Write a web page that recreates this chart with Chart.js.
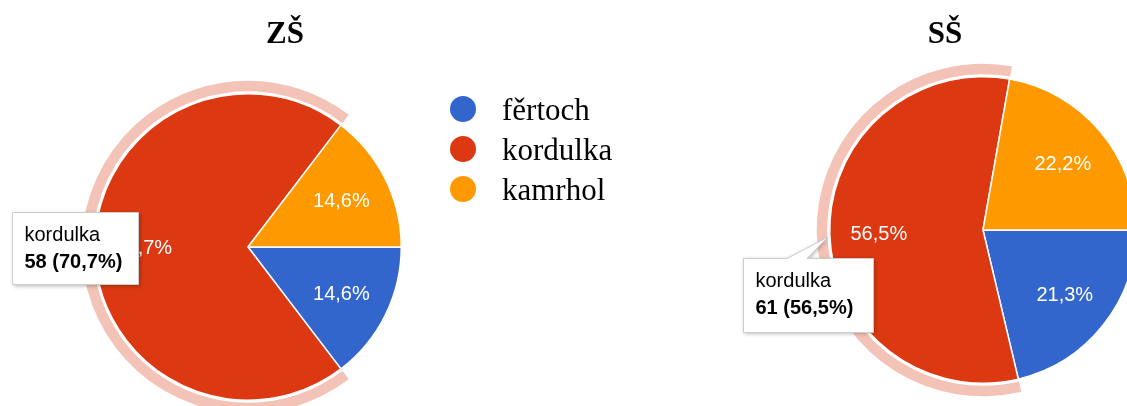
<!DOCTYPE html>
<html><head><meta charset="utf-8">
<script src="https://cdn.jsdelivr.net/npm/chart.js@4"></script>
<style>
html,body{margin:0;padding:0;background:#fff;overflow:hidden;width:1127px;height:406px;}
#wrap{position:relative;width:1127px;height:406px;overflow:hidden;}
canvas{position:absolute;top:0;display:block;}
</style></head><body>
<div id="wrap">
<canvas id="zs" width="700" height="406" style="left:0px"></canvas>
<canvas id="ss" width="460" height="406" style="left:700px"></canvas>
</div>
<script>
const categories = ['fěrtoch', 'kordulka', 'kamrhol'];
const zsValues = [12, 58, 12];
const ssValues = [23, 61, 24];
const chartTitles = ['ZŠ', 'SŠ'];
const sliceColors = ['#3366cc', '#dc3912', '#ff9900'];
const highlightIndex = 1;

function pct(values, i) {
  const t = values.reduce((a, b) => a + b, 0);
  return (values[i] / t * 100).toFixed(1).replace('.', ',') + '%';
}

const SANS = '"Liberation Sans", Arial, sans-serif';
const SERIF = '"Liberation Serif", "Times New Roman", serif';

function makePlugin(cfg) {
  return {
    id: 'decor',
    afterDatasetsDraw(chart) {
      const ctx = chart.ctx;
      const meta = chart.getDatasetMeta(0);
      const values = chart.data.datasets[0].data;
      ctx.save();
      // highlight ring
      const p = meta.data[highlightIndex].getProps(['x', 'y', 'startAngle', 'endAngle', 'outerRadius'], true);
      ctx.beginPath();
      ctx.arc(p.x, p.y, p.outerRadius + 13, p.startAngle, p.endAngle);
      ctx.arc(p.x, p.y, p.outerRadius + 2.5, p.endAngle, p.startAngle, true);
      ctx.closePath();
      ctx.fillStyle = 'rgba(220,57,18,0.3)';
      ctx.fill();
      // slice labels
      ctx.fillStyle = '#ffffff';
      ctx.font = '20px ' + SANS;
      ctx.textAlign = 'center';
      ctx.textBaseline = 'middle';
      meta.data.forEach((a, i) => {
        const q = a.getProps(['x', 'y', 'startAngle', 'endAngle', 'outerRadius'], true);
        const mid = (q.startAngle + q.endAngle) / 2;
        const rr = q.outerRadius * 0.68;
        ctx.fillText(pct(values, i), q.x + Math.cos(mid) * rr, q.y + Math.sin(mid) * rr + 1);
      });
      // title
      ctx.fillStyle = '#000';
      ctx.font = 'bold 31px ' + SERIF;
      ctx.textBaseline = 'alphabetic';
      ctx.fillText(cfg.title, cfg.titleX, 43);
      // legend
      if (cfg.legend) {
        ctx.textAlign = 'left';
        ctx.font = '31px ' + SERIF;
        categories.forEach((c, i) => {
          const y = 109 + i * 40;
          ctx.beginPath();
          ctx.arc(463, y, 13, 0, Math.PI * 2);
          ctx.fillStyle = sliceColors[i];
          ctx.fill();
          ctx.fillStyle = '#000';
          ctx.fillText(c, 502, y + 11);
        });
      }
      // tooltip
      const b = cfg.tip;
      ctx.beginPath();
      ctx.moveTo(b.x, b.y);
      if (b.pointer) {
        ctx.lineTo(b.pointer[0], b.y);
        ctx.lineTo(b.pointer[2], b.pointer[3]);
        ctx.lineTo(b.pointer[1], b.y);
      }
      ctx.lineTo(b.x + b.w, b.y);
      ctx.lineTo(b.x + b.w, b.y + b.h);
      ctx.lineTo(b.x, b.y + b.h);
      ctx.closePath();
      ctx.shadowColor = 'rgba(0,0,0,0.3)';
      ctx.shadowBlur = 4;
      ctx.shadowOffsetX = 1;
      ctx.shadowOffsetY = 1;
      ctx.fillStyle = '#fff';
      ctx.fill();
      ctx.shadowColor = 'transparent';
      ctx.strokeStyle = '#cccccc';
      ctx.lineWidth = 1;
      ctx.stroke();
      ctx.fillStyle = '#000';
      ctx.textAlign = 'left';
      ctx.font = '20px ' + SANS;
      ctx.fillText(categories[highlightIndex], b.x + 12, b.y + 28);
      ctx.font = 'bold 20px ' + SANS;
      ctx.fillText(values[highlightIndex] + ' (' + pct(values, highlightIndex) + ')', b.x + 12, b.y + 55);
      ctx.restore();
    }
  };
}

function makeChart(id, values, padding, cfg) {
  return new Chart(document.getElementById(id), {
    type: 'pie',
    data: {
      labels: categories,
      datasets: [{
        data: values,
        backgroundColor: sliceColors,
        borderColor: '#ffffff',
        borderWidth: 1.5,
        hoverOffset: 0,
        offset: 0
      }]
    },
    options: {
      responsive: false,
      animation: false,
      events: [],
      rotation: 90,
      layout: { padding: padding },
      plugins: { legend: { display: false }, tooltip: { enabled: false }, title: { display: false } }
    },
    plugins: [makePlugin(cfg)]
  });
}

makeChart('zs', zsValues, { left: 94, top: 93, right: 298, bottom: 5 }, {
  title: chartTitles[0], titleX: 285, legend: true,
  tip: { x: 12.5, y: 212.5, w: 126, h: 72 }
});
makeChart('ss', ssValues, { left: 129, top: 76, right: 23, bottom: 22 }, {
  title: chartTitles[1], titleX: 245, legend: false,
  tip: { x: 43.5, y: 258.5, w: 130, h: 74, pointer: [87, 107, 128, 237] }
});
</script>
</body></html>
